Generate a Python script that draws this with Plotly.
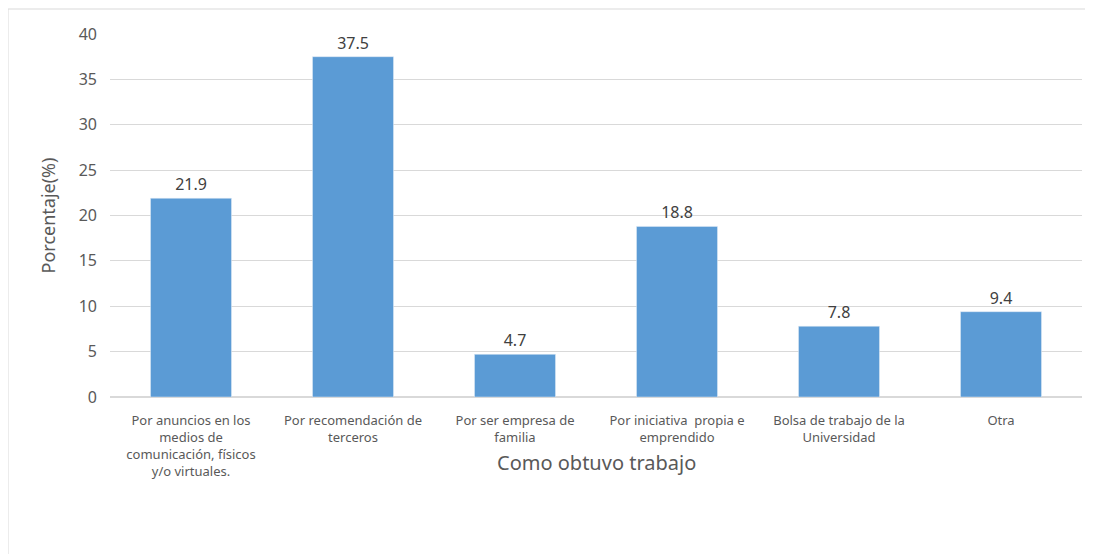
import plotly.graph_objects as go

categorias = [
    "Por anuncios en los<br>medios de<br>comunicación, físicos<br>y/o virtuales.",
    "Por recomendación de<br>terceros",
    "Por ser empresa de<br>familia",
    "Por iniciativa  propia e<br>emprendido",
    "Bolsa de trabajo de la<br>Universidad",
    "Otra",
]
porcentajes = [21.9, 37.5, 4.7, 18.8, 7.8, 9.4]
ticks_y = [0, 5, 10, 15, 20, 25, 30, 35, 40]

# page has an 8px body margin, so the figure is sized to fit the window
W, H = 1085, 546
L, T, PW, PH = 102, 26, 972, 363
bottom = T + PH

fig = go.Figure()
fig.add_trace(go.Bar(
    x=categorias, y=porcentajes,
    marker_color="#5B9BD5",
    text=[str(v) for v in porcentajes],
    textposition="outside",
    textfont=dict(size=16, color="#404040"),
    cliponaxis=False,
))

fig.update_layout(
    width=W, height=H,
    margin=dict(l=L, r=W - L - PW, t=T, b=H - bottom),
    plot_bgcolor="white", paper_bgcolor="white",
    bargap=0.5,
    showlegend=False,
    font=dict(family="Noto Sans", color="#595959"),
    xaxis=dict(
        tickfont=dict(size=13, color="#595959"),
        showline=False, ticks="", ticklabelstandoff=14,
    ),
    yaxis=dict(
        range=[0, 40], tickvals=ticks_y,
        gridcolor="#d9d9d9", zeroline=True, zerolinecolor="#d9d9d9",
        tickfont=dict(size=16, color="#595959"),
        ticklabelstandoff=12,
        title=dict(text="Porcentaje(%)", font=dict(size=18, color="#595959"), standoff=18),
    ),
    shapes=[dict(
        type="rect", xref="paper", yref="paper",
        x0=(0 - L) / PW, x1=(W + 2 - L) / PW,
        y0=(bottom - H - 2) / PH, y1=(bottom - 1) / PH,
        line=dict(color="#d9d9d9", width=1), layer="below",
    )],
    annotations=[dict(
        text="Como obtuvo trabajo", xref="paper", yref="paper",
        x=0.5, y=-65 / PH, yanchor="middle", showarrow=False,
        font=dict(size=20, color="#595959"),
    )],
)

fig.write_html("out.html")
